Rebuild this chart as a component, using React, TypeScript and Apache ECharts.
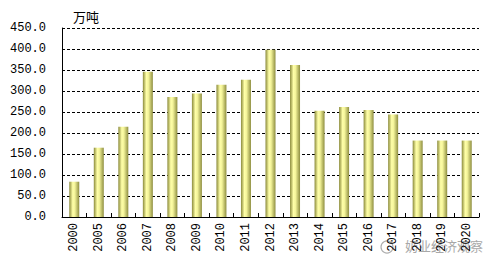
import React, { useEffect, useRef } from "react";
import * as echarts from "echarts";

const categories = ["2000", "2005", "2006", "2007", "2008", "2009", "2010", "2011", "2012", "2013", "2014", "2015", "2016", "2017", "2018", "2019", "2020"];
const values = [84, 165, 215, 346, 286, 294, 315, 327, 398, 362, 253, 262, 255, 244, 182, 182, 182];
const yTicks = { min: 0, max: 450, interval: 50 };
const unitLabel = "万吨";
const watermark = "奶业经济观察";

export default function App() {
  const ref = useRef<HTMLDivElement>(null);
  useEffect(() => {
    if (!ref.current) return;
    const chart = echarts.init(ref.current, null, { renderer: "svg" });
    const barColor = new echarts.graphic.LinearGradient(0, 0, 1, 0, [
      { offset: 0, color: "#8a8a3a" },
      { offset: 0.35, color: "#ffffa8" },
      { offset: 0.55, color: "#f4f49a" },
      { offset: 1, color: "#8e8e40" },
    ]);
    chart.setOption({
      animation: false,
      backgroundColor: "#ffffff",
      grid: { left: 62, right: 14, top: 28, bottom: 52 },
      xAxis: {
        type: "category",
        data: categories,
        boundaryGap: true,
        axisLine: { show: true, lineStyle: { color: "#000", width: 1 } },
        axisTick: { show: true, inside: true, length: 4, alignWithLabel: false, lineStyle: { color: "#000" } },
        axisLabel: {
          rotate: 90,
          interval: 0,
          color: "#000",
          fontSize: 12,
          fontFamily: "Liberation Mono",
          margin: 6,
        },
        splitLine: { show: false },
      },
      yAxis: {
        type: "value",
        min: yTicks.min,
        max: yTicks.max,
        interval: yTicks.interval,
        axisLine: { show: true, lineStyle: { color: "#000", width: 1 } },
        axisTick: { show: true, inside: true, length: 3, lineStyle: { color: "#000" } },
        axisLabel: {
          color: "#000",
          fontSize: 12,
          fontFamily: "Liberation Mono",
          margin: 16,
          formatter: (v: number) => v.toFixed(1),
        },
        splitLine: { show: true, lineStyle: { color: "#000", type: [3, 2], width: 1 } },
      },
      series: [
        {
          type: "bar",
          data: values,
          barWidth: 10,
          itemStyle: { color: barColor },
        },
      ],
      graphic: [
        {
          type: "text",
          left: 73,
          top: 10,
          style: { text: unitLabel, fontSize: 13, fill: "#000", fontFamily: "Noto Sans CJK SC" },
        },
        {
          type: "circle",
          shape: { cx: 387, cy: 247, r: 6 },
          style: { fill: "none", stroke: "#b0b0b0", lineWidth: 1.2 },
        },
        {
          type: "text",
          left: 405,
          top: 239,
          style: { text: watermark, fontSize: 13, fill: "#a8a8a8", fontFamily: "Noto Sans CJK SC" },
        },
      ],
    });
    return () => chart.dispose();
  }, []);
  return <div ref={ref} style={{ width: 493, height: 269, margin: -8 }} />;
}
